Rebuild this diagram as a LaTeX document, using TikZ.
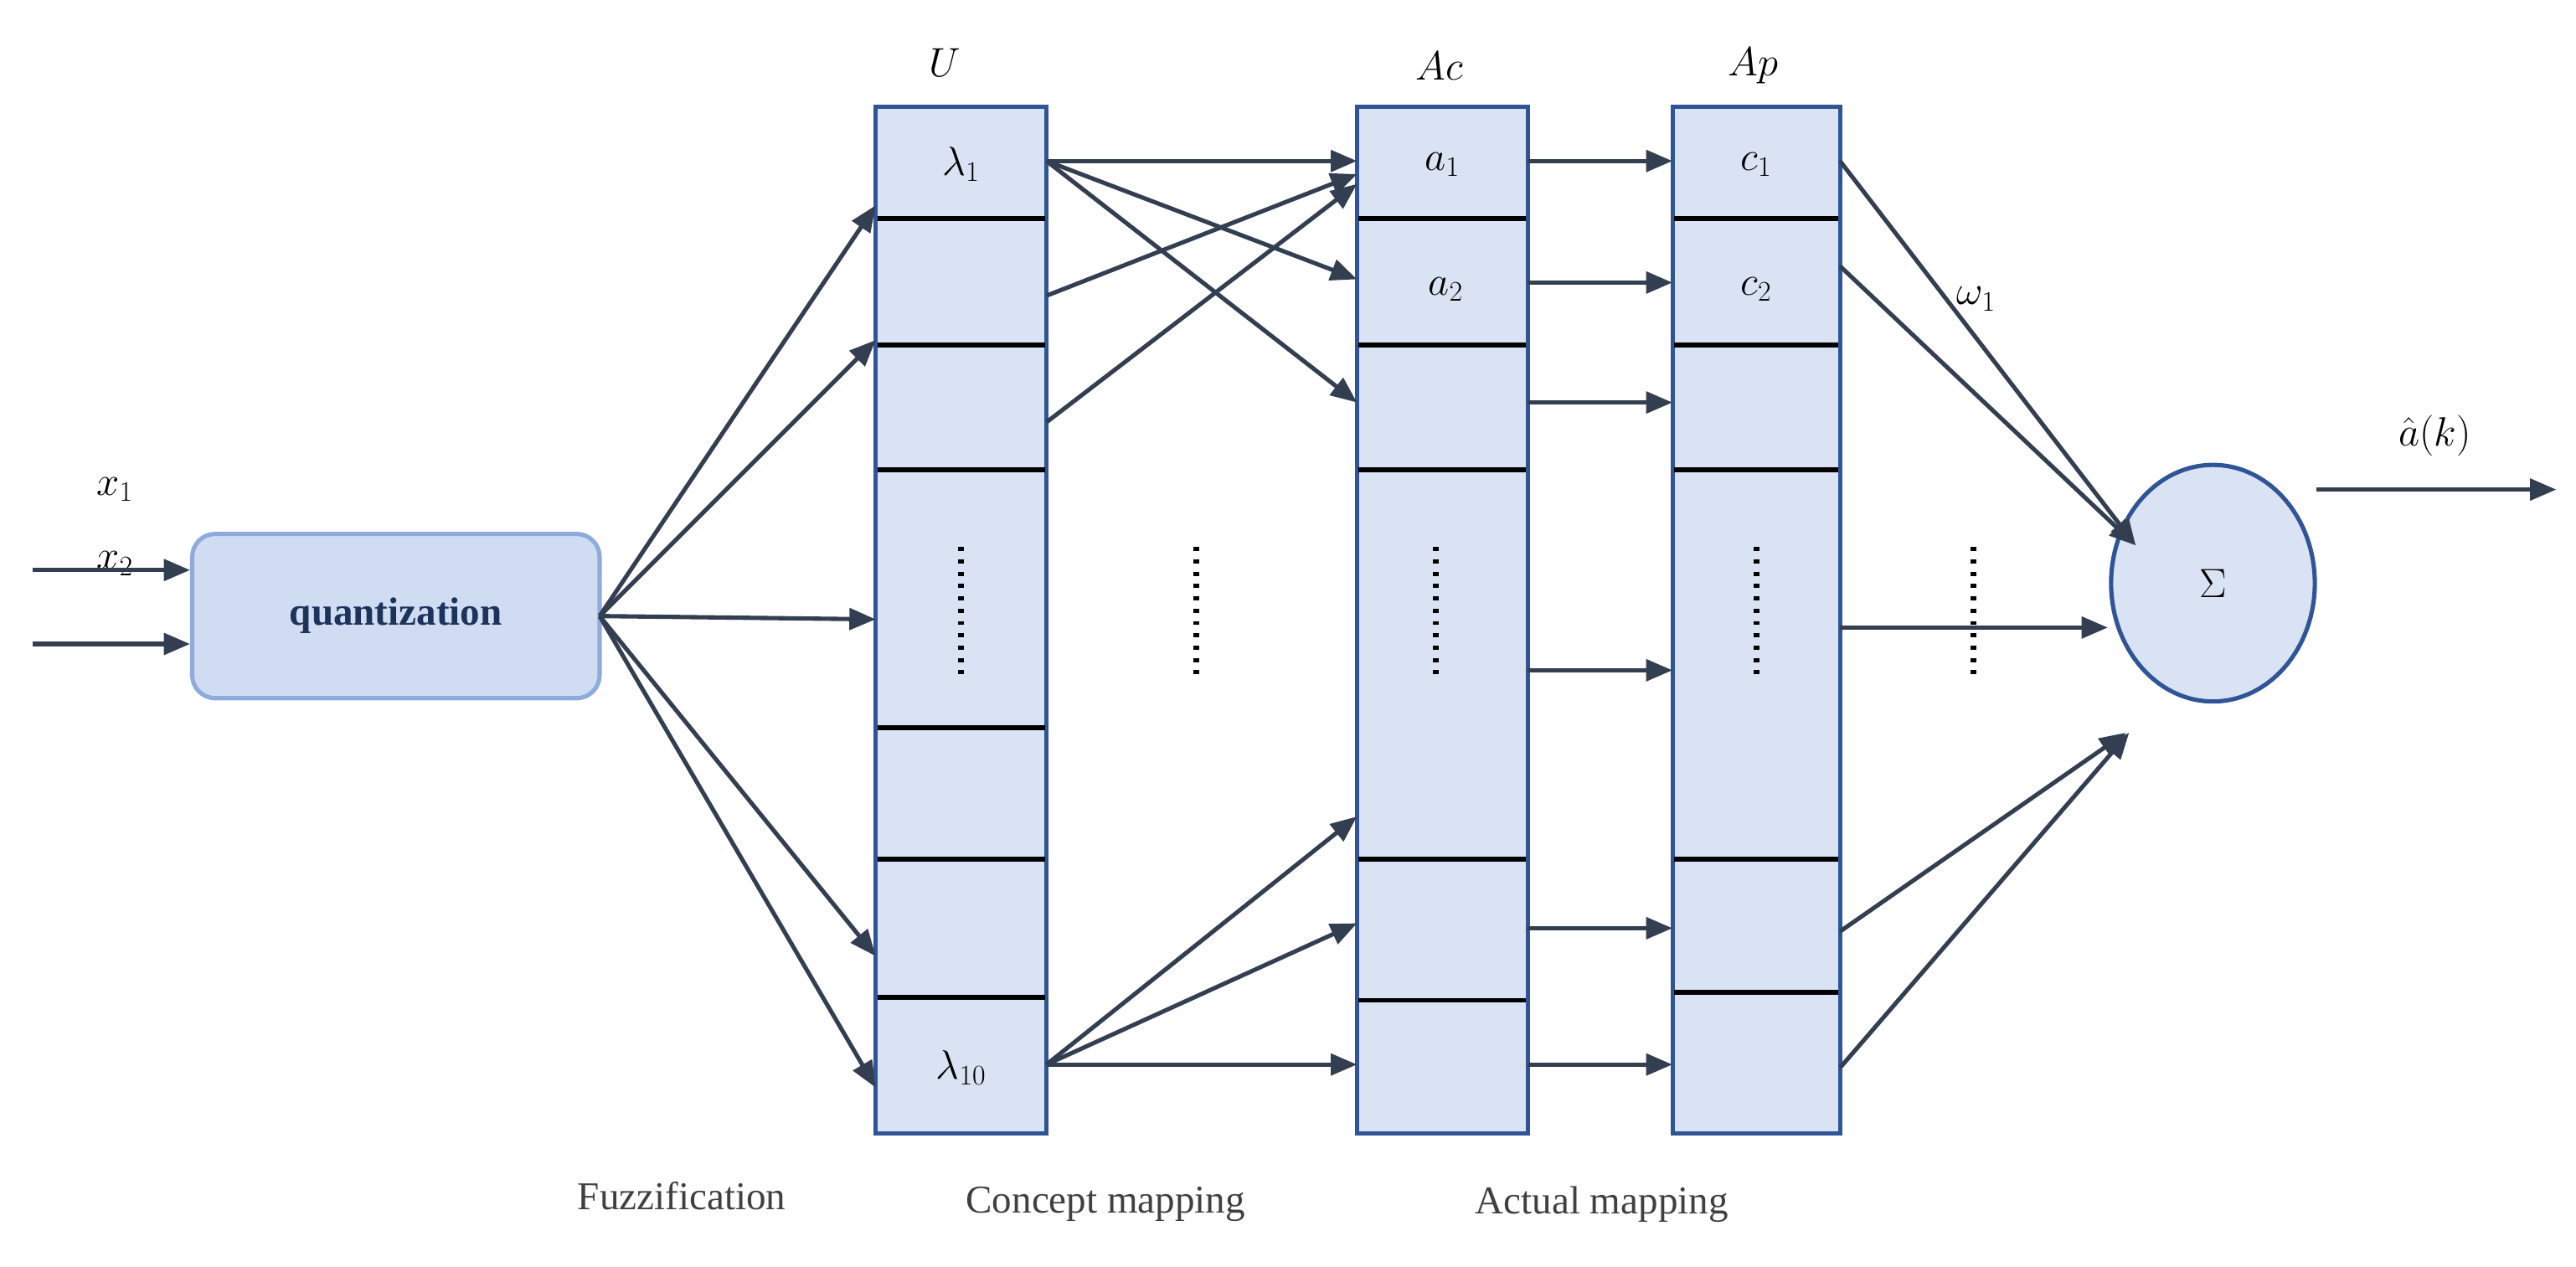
\documentclass[tikz,border=0pt]{standalone}
\usepackage{fontspec}
\setmainfont{Liberation Serif}
\usetikzlibrary{arrows.meta,shapes.geometric}
\definecolor{cfill}{HTML}{DAE3F3}
\definecolor{cbord}{HTML}{2F5597}
\definecolor{carr}{HTML}{333F50}
\definecolor{qfill}{HTML}{D0DCF2}
\definecolor{qbord}{HTML}{8FAADC}
\begin{document}
\begin{tikzpicture}[x=1pt,y=-1pt,
  ar/.style={draw=carr,line width=2.6pt,-{Triangle[length=16pt,width=13pt]}},
  col/.style={draw=cbord,fill=cfill,line width=2.6pt,minimum width=104pt,inner sep=0pt},
  div/.style={line width=2.8pt,black},
  dts/.style={line width=3.5pt,dash pattern=on 2.5pt off 5pt},
  lab/.style={font=\fontsize{26}{30}\selectfont},
  captxt/.style={font=\fontsize{24}{28}\selectfont,text=black!75}]
\useasboundingbox (0,0) rectangle (1568,771);
% columns
\node[col,minimum height=625pt] (U) at (585,377.5) {};
\node[col,minimum height=625pt] (Ac) at (878,377.5) {};
\node[col,minimum height=625pt,minimum width=102pt] (Ap) at (1069,377.5) {};
\foreach \y in {133,210,286,443,523,607} \draw[div] (534,\y) -- (636,\y);
\foreach \y in {133,210,286,523,609} \draw[div] (827,\y) -- (929,\y);
\foreach \y in {133,210,286,523,604} \draw[div] (1019,\y) -- (1119,\y);
\node[lab] (tU) at (575,38) {$U$};
\node[lab] (tAc) at (876,40) {$Ac$};
\node[lab] (tAp) at (1067,40) {$Ap$};
\node[lab] (l1) at (585,100) {$\lambda_1$};
\node[lab] (l10) at (585,650) {$\lambda_{10}$};
\node[lab] (a1) at (878,100) {$a_1$};
\node[lab] (a2) at (880,176) {$a_2$};
\node[lab] (c1) at (1069,100) {$c_1$};
\node[lab] (c2) at (1069,176) {$c_2$};
% quantization
\node[draw=qbord,fill=qfill,line width=2.6pt,rounded corners=14pt,minimum width=248pt,minimum height=100pt,
  font=\fontsize{24}{28}\selectfont\bfseries,text=cbord!60!black] (Q) at (241,375) {quantization};
\node[lab] (x1) at (70,298) {$x_1$};
\node[lab] (x2) at (70,343) {$x_2$};
\coordinate (x1s) at (20,347); \coordinate (x2s) at (20,392);
\draw[ar] (x1s) -- (Q.west |- x1s);
\draw[ar] (x2s) -- (Q.west |- x2s);
% sum
\node[draw=cbord,fill=cfill,line width=2.6pt,ellipse,minimum width=124pt,minimum height=144pt,inner sep=0pt,font=\fontsize{34}{38}\selectfont] (S) at (1347,355) {$\Sigma$};
\coordinate (out) at (1556,298);
\draw[ar] (1410,298) -- (out);
\node[lab] (ak) at (1482,265) {$\hat{a}(k)$};
\node[lab] (w1) at (1203,182) {$\omega_1$};
% quantization -> U
\coordinate (qo) at (365,375);
\foreach \y in {125,207,377,582,662} \draw[ar] (qo) -- (533,\y);
% U -> Ac
\foreach \y in {98,170,245} \draw[ar] (637,98) -- (826,\y);
\draw[ar] (637,180) -- (826,106);
\draw[ar] (637,257) -- (826,112);
\foreach \y in {497,562,648} \draw[ar] (637,648) -- (826,\y);
% Ac -> Ap
\foreach \y in {98,172,245,408,565,648} \draw[ar] (930,\y) -- (1018,\y);
% Ap -> Sum
\draw[ar] (1120,98) -- (1300,332);
\draw[ar] (1120,162) -- (1300,332);
\draw[ar] (1120,382) -- (1283,382);
\draw[ar] (1120,567) -- (1294,446);
\draw[ar] (1120,650) -- (1296,446);
% dots
\foreach \x in {585,728,874,1069,1201} \draw[dts] (\x,333) -- (\x,415);
% captions
\node[captxt] (f) at (415,728) {Fuzzification};
\node[captxt] (cm) at (673,733) {Concept mapping};
\node[captxt] (am) at (975,733) {Actual mapping};
\end{tikzpicture}
\end{document}
